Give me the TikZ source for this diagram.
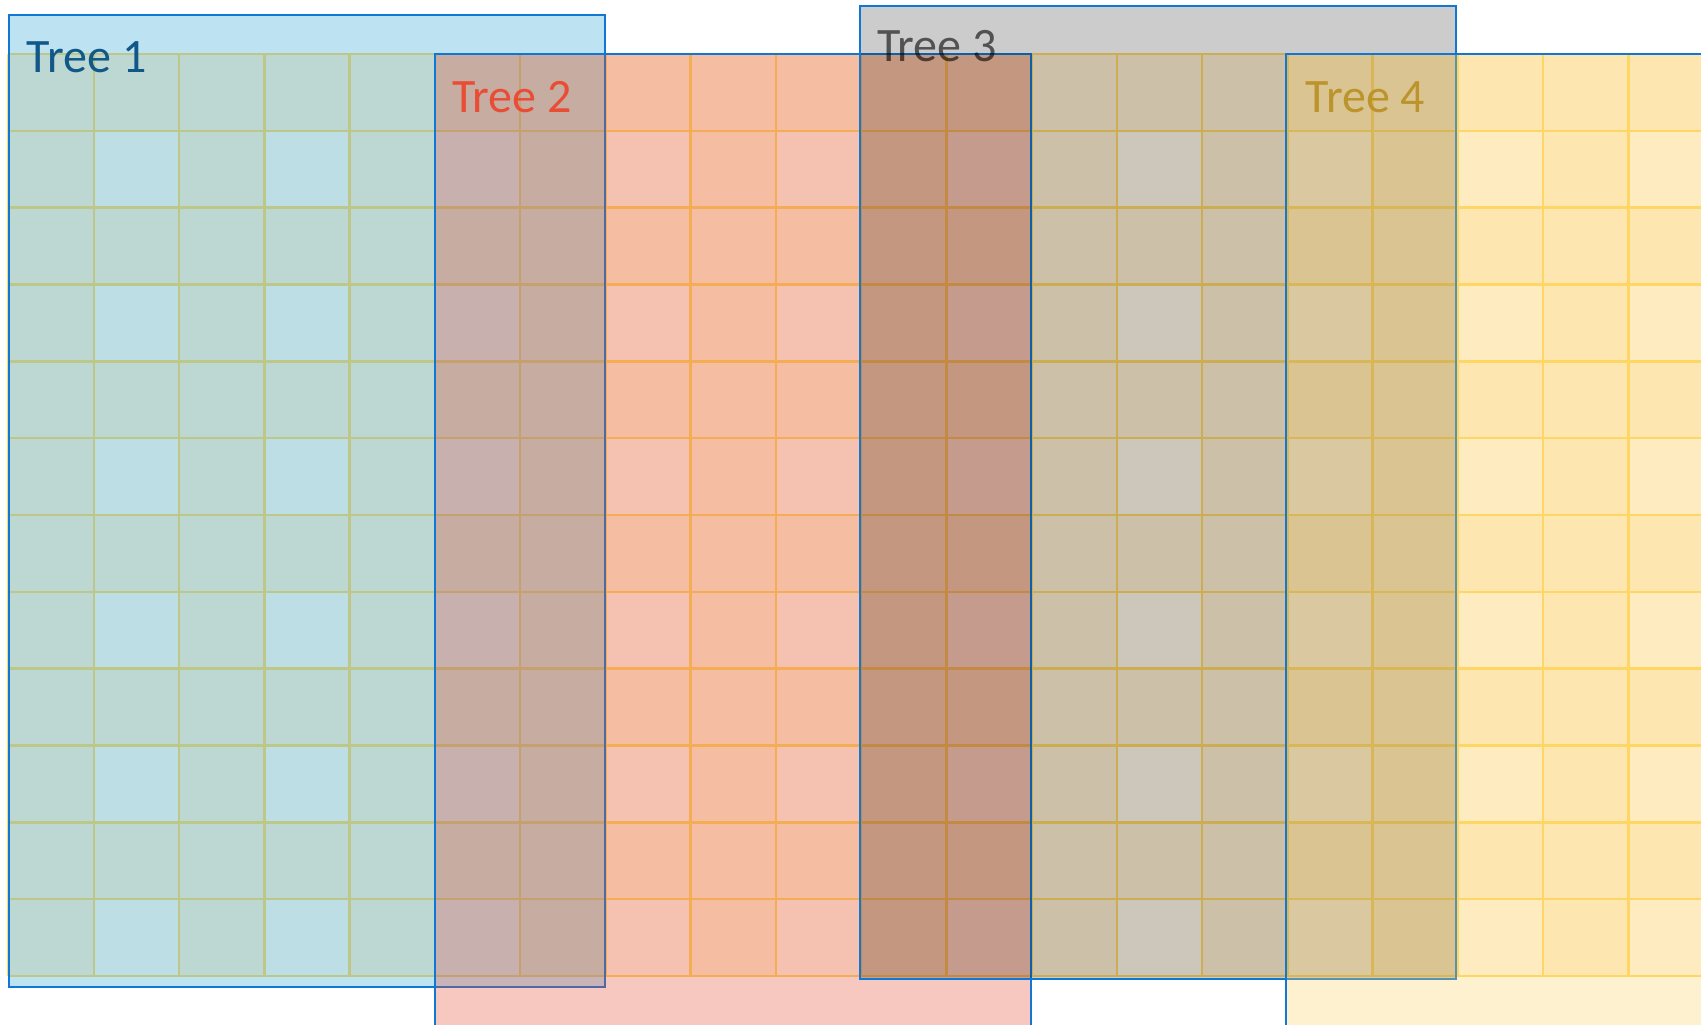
\documentclass[tikz,border=0pt]{standalone}
\usepackage{fontspec}
\setmainfont{Carlito}
\definecolor{gridline}{RGB}{255,217,102}
\definecolor{celldark}{RGB}{255,240,210}
\definecolor{celllight}{RGB}{255,248,234}
\definecolor{treeborder}{RGB}{16,120,212}
\definecolor{tone}{RGB}{38,162,215}
\definecolor{ttwo}{RGB}{225,72,48}
\definecolor{tfour}{RGB}{252,208,98}
\definecolor{lone}{RGB}{16,88,136}
\definecolor{ltwo}{RGB}{233,77,53}
\definecolor{lfour}{RGB}{188,148,44}
\begin{document}
\begin{tikzpicture}[x=1pt,y=-1pt,
  treebox/.style={draw=treeborder, line width=2pt, fill opacity=0.3, anchor=north west,
    minimum width=596pt, minimum height=972pt, inner sep=0pt, outer sep=0pt},
  treelabel/.style={anchor=base west, inner sep=0pt, font=\fontsize{48}{58}\selectfont},
  gridrule/.style={draw=gridline, line width=2.5pt}
]
\useasboundingbox (0,0) rectangle (1701,1025);
\begin{scope}
\clip (0,0) rectangle (1701,1025);
% base grid
\fill[celldark] (8.7,54) rectangle (1712,976);
\foreach \r in {1,3,...,11} {
  \foreach \c in {1,3,...,19} {
    \fill[celllight] ({8.7+\c*85.25},{54+\r*76.83}) rectangle ++(85.25,76.83);
  }
}
\foreach \c in {0,...,20} {
  \draw[gridrule] ({8.7+\c*85.25},54) -- ({8.7+\c*85.25},976);
}
\foreach \r in {0,...,12} {
  \draw[gridrule] (8.7,{54+\r*76.83}) -- (1712,{54+\r*76.83});
}
% trees
\node[treebox, fill=tone] (tree1) at (8.7,15) {};
\node[treelabel, text=lone] (label1) at (26.7,72.7) {Tree 1};
\node[treebox, fill=ttwo] (tree2) at (434.5,54) {};
\node[treelabel, text=ltwo] (label2) at (452,112.7) {Tree 2};
\node[treebox, fill=black, fill opacity=0.2] (tree3) at (859.9,6.5) {};
\node[treelabel, text=black, text opacity=0.6] (label3) at (877,61.7) {Tree 3};
\node[treebox, fill=tfour] (tree4) at (1285.5,54) {};
\node[treelabel, text=lfour] (label4) at (1305.4,112.7) {Tree 4};
\end{scope}
\end{tikzpicture}
\end{document}
